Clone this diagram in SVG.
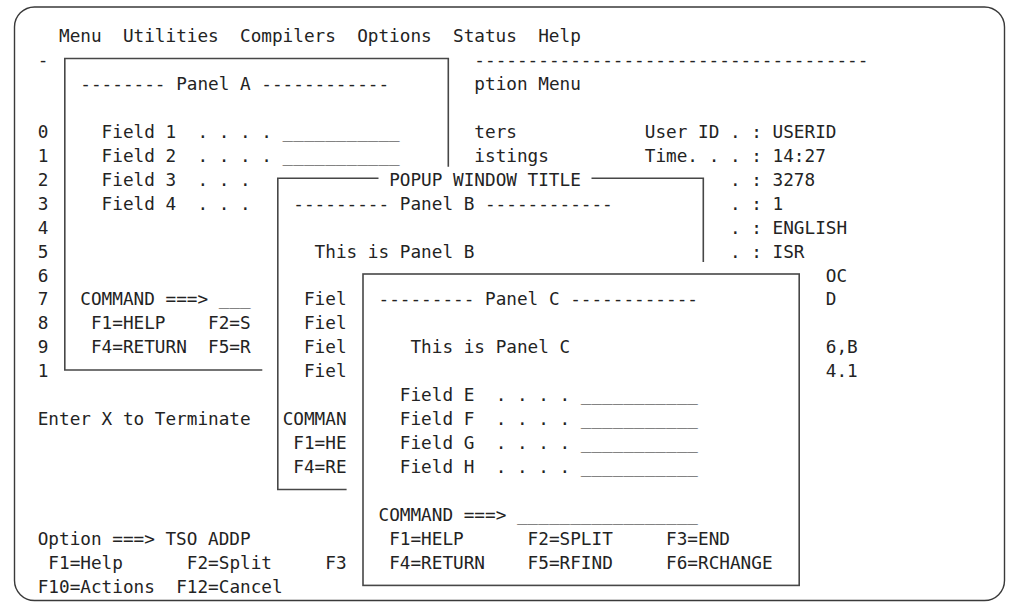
<svg xmlns="http://www.w3.org/2000/svg" width="1010" height="607" viewBox="0 0 1010 607" xml:space="preserve">
<style>
.t { font-family: "DejaVu Sans Mono", "Liberation Mono", monospace; font-size: 17.7px; fill: #232323; white-space: pre; }
.b { fill: none; stroke: #474747; stroke-width: 1.6; }
.frame { fill: #ffffff; stroke: #3a3a3a; stroke-width: 1.4; }
</style>
<rect x="0" y="0" width="1010" height="607" fill="#ffffff"/>
<g id="screen">
<rect class="frame" x="14.5" y="7" width="990" height="593.5" rx="20" ry="20"/>
<text class="t" x="59" y="42">Menu  Utilities  Compilers  Options  Status  Help</text>
<text class="t" x="37.7" y="66">-</text>
<text class="t" x="474.35" y="66">-------------------------------------</text>
<text class="t" x="474.35" y="89.9">ption Menu</text>
<text class="t" x="474.35" y="137.8">ters</text>
<text class="t" x="644.75" y="137.8">User ID . : USERID</text>
<text class="t" x="474.35" y="161.75">istings</text>
<text class="t" x="644.75" y="161.75">Time. . . : 14:27</text>
<text class="t" x="729.95" y="185.7">. : 3278</text>
<text class="t" x="729.95" y="209.65">. : 1</text>
<text class="t" x="729.95" y="233.6">. : ENGLISH</text>
<text class="t" x="729.95" y="257.55">. : ISR</text>
<text class="t" x="825.8" y="281.5">OC</text>
<text class="t" x="825.8" y="305.45">D</text>
<text class="t" x="825.8" y="353.35">6,B</text>
<text class="t" x="825.8" y="377.3">4.1</text>
<text class="t" x="37.7" y="137.8">0</text>
<text class="t" x="37.7" y="161.75">1</text>
<text class="t" x="37.7" y="185.7">2</text>
<text class="t" x="37.7" y="209.65">3</text>
<text class="t" x="37.7" y="233.6">4</text>
<text class="t" x="37.7" y="257.55">5</text>
<text class="t" x="37.7" y="281.5">6</text>
<text class="t" x="37.7" y="305.45">7</text>
<text class="t" x="37.7" y="329.4">8</text>
<text class="t" x="37.7" y="353.35">9</text>
<text class="t" x="37.7" y="377.3">1</text>
<text class="t" x="37.7" y="425.2">Enter X to Terminate</text>
<text class="t" x="37.7" y="544.95">Option ===> TSO ADDP</text>
<text class="t" x="48.35" y="568.9">F1=Help</text>
<text class="t" x="186.8" y="568.9">F2=Split</text>
<text class="t" x="325.25" y="568.9">F3</text>
<text class="t" x="37.7" y="592.85">F10=Actions</text>
<text class="t" x="176.15" y="592.85">F12=Cancel</text>
</g>
<g id="panel-a">
<path class="b" d="M448.3 166.7 V58.5 H64.8 V370 H262.3"/>
<text class="t" x="80.3" y="89.9">-------- Panel A ------------</text>
<text class="t" x="101.6" y="137.8">Field 1  . . . . ___________</text>
<text class="t" x="101.6" y="161.75">Field 2  . . . . ___________</text>
<text class="t" x="101.6" y="185.7">Field 3  . . .</text>
<text class="t" x="101.6" y="209.65">Field 4  . . .</text>
<text class="t" x="80.3" y="305.45">COMMAND ===> ___</text>
<text class="t" x="90.95" y="329.4">F1=HELP    F2=S</text>
<text class="t" x="90.95" y="353.35">F4=RETURN  F5=R</text>
</g>
<g id="panel-b">
<path class="b" d="M378.5 178.2 H277.8 V489.5 H346.6"/>
<path class="b" d="M591.5 178.2 H703.3 V262"/>
<text class="t" x="389.15" y="185.7">POPUP WINDOW TITLE</text>
<text class="t" x="293.3" y="209.65">--------- Panel B ------------</text>
<text class="t" x="314.6" y="257.55">This is Panel B</text>
<text class="t" x="303.95" y="305.45">Fiel</text>
<text class="t" x="303.95" y="329.4">Fiel</text>
<text class="t" x="303.95" y="353.35">Fiel</text>
<text class="t" x="303.95" y="377.3">Fiel</text>
<text class="t" x="282.65" y="425.2">COMMAN</text>
<text class="t" x="293.3" y="449.15">F1=HE</text>
<text class="t" x="293.3" y="473.1">F4=RE</text>
</g>
<g id="panel-c">
<rect class="b" x="363" y="274" width="436.2" height="311.4"/>
<text class="t" x="378.5" y="305.45">--------- Panel C ------------</text>
<text class="t" x="410.45" y="353.35">This is Panel C</text>
<text class="t" x="399.8" y="401.25">Field E  . . . . ___________</text>
<text class="t" x="399.8" y="425.2">Field F  . . . . ___________</text>
<text class="t" x="399.8" y="449.15">Field G  . . . . ___________</text>
<text class="t" x="399.8" y="473.1">Field H  . . . . ___________</text>
<text class="t" x="378.5" y="521">COMMAND ===> _________________</text>
<text class="t" x="389.15" y="544.95">F1=HELP</text>
<text class="t" x="527.6" y="544.95">F2=SPLIT</text>
<text class="t" x="666.05" y="544.95">F3=END</text>
<text class="t" x="389.15" y="568.9">F4=RETURN</text>
<text class="t" x="527.6" y="568.9">F5=RFIND</text>
<text class="t" x="666.05" y="568.9">F6=RCHANGE</text>
</g>
<g id="connectors"/>
</svg>
